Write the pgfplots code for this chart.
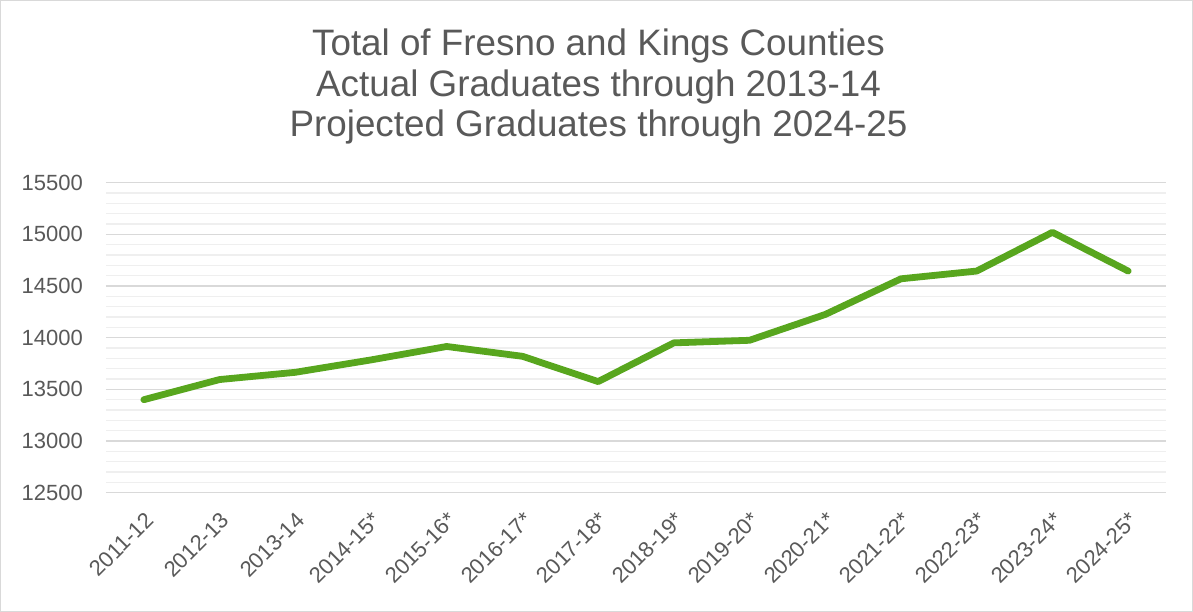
\documentclass[border=0pt]{standalone}
\usepackage{fontspec}
\setmainfont{Liberation Sans}
\usepackage{pgfplots}
\pgfplotsset{compat=1.18}
\definecolor{txt}{HTML}{595959}
\definecolor{majg}{HTML}{D9D9D9}
\definecolor{ming}{HTML}{EFEFEF}
\definecolor{lgreen}{HTML}{58A61E}
\begin{document}
\begin{tikzpicture}
\begin{axis}[
  scale only axis, width=1060pt, height=310pt,
  xmin=-0.5, xmax=13.5, ymin=12500, ymax=15500,
  axis line style={draw=none},
  major tick length=0pt, minor tick length=0pt,
  xtick={0,...,13},
  xticklabels={2011-12,2012-13,2013-14,2014-15*,2015-16*,2016-17*,2017-18*,2018-19*,2019-20*,2020-21*,2021-22*,2022-23*,2023-24*,2024-25*},
  ytick={12500,13000,...,15500},
  minor ytick={12600,12700,...,15400},
  scaled y ticks=false,
  ymajorgrids, yminorgrids,
  major grid style={majg, line width=1.5pt},
  minor grid style={ming, line width=1.2pt},
  /pgf/number format/assume math mode=true,
  /pgf/number format/1000 sep={},
  yticklabel style={font=\fontsize{22}{26}\selectfont, text=txt, anchor=east, inner sep=0pt},
  yticklabel shift=23pt,
  xticklabel style={font=\fontsize{22}{26}\selectfont, text=txt, rotate=45, anchor=north east, inner sep=0pt},
  xticklabel shift=18pt,
  clip=false,
]
\addplot[lgreen, line width=6.8pt, line cap=round, line join=round] coordinates {
(0,13400) (1,13595) (2,13665) (3,13785) (4,13915) (5,13820) (6,13575)
(7,13950) (8,13975) (9,14225) (10,14570) (11,14645) (12,15020) (13,14645)
};
\end{axis}
\begin{scope}[x=1pt,y=1pt,shift={(-106pt,-119.3pt)}]
\useasboundingbox (0,0) rectangle (1193,612);
\draw[majg,line width=1pt] (0.5,0.5) rectangle (1192.5,611.5);
\node[text=txt, font=\fontsize{36.8}{40.5}\selectfont, anchor=base] at (598.5,556) {Total of Fresno and Kings Counties};
\node[text=txt, font=\fontsize{36.8}{40.5}\selectfont, anchor=base] at (598.5,515.7) {Actual Graduates through 2013-14};
\node[text=txt, font=\fontsize{36.8}{40.5}\selectfont, anchor=base] at (598.5,475.3) {Projected Graduates through 2024-25};
\end{scope}
\end{tikzpicture}
\end{document}
